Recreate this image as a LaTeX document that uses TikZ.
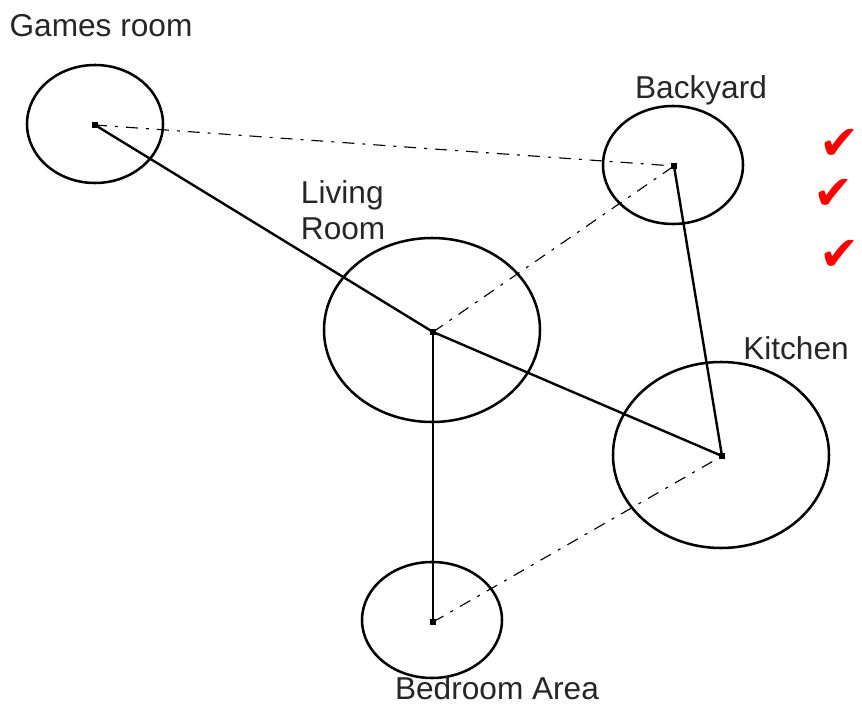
\documentclass[tikz,border=0pt]{standalone}
\usepackage{fontspec}
\setmainfont{Liberation Sans}
\newfontfamily\symfont{DejaVu Sans}
\usetikzlibrary{shapes.geometric}
\tikzset{room/.style={draw, ellipse, line width=1.8pt, inner sep=0pt},
         link/.style={line width=1.7pt},
         maybe/.style={line width=0.8pt, dash pattern=on 0.3cm off 0.2cm on 0.075cm off 0.2cm},
         spot/.style={fill, rectangle, minimum size=0.13cm, inner sep=0pt},
         lbl/.style={text=black!85, font=\fontsize{22.5}{26}\selectfont},
         tick/.style={text=red, font=\symfont\fontsize{34}{34}\selectfont}
}
\begin{document}
\begin{tikzpicture}
\useasboundingbox (0,0) rectangle (21.55,-17.675);

% rooms
\node[room, minimum width=3.4cm, minimum height=2.95cm] (gr) at (2.375,-3.1) {};
\node[room, minimum width=3.5cm, minimum height=2.95cm] (by) at (16.825,-4.125) {};
\node[room, minimum width=5.4cm, minimum height=4.6cm] (lr) at (10.8,-8.25) {};
\node[room, minimum width=5.4cm, minimum height=4.65cm] (kt) at (18.025,-11.375) {};
\node[room, minimum width=3.5cm, minimum height=2.9cm] (br) at (10.8,-15.5) {};

% centre points
\node[spot] (grc) at (2.375,-3.125) {};
\node[spot] (byc) at (16.85,-4.15) {};
\node[spot] (lrc) at (10.825,-8.3) {};
\node[spot] (ktc) at (18.05,-11.4) {};
\node[spot] (brc) at (10.825,-15.55) {};

% links
\draw[link] (grc.center) -- (lrc.center) -- (ktc.center);
\draw[link] (byc.center) -- (ktc.center);
\draw[link] (lrc.center) -- (brc.center);
\draw[maybe] (grc.center) -- (byc.center);
\draw[maybe] (lrc.center) -- (byc.center);
\draw[maybe] (brc.center) -- (ktc.center);

% names
\node[lbl, anchor=base] (grl) at (2.525,-0.925) {Games room};
\node[lbl, anchor=base] (byl) at (17.525,-2.475) {Backyard};
\node[lbl, anchor=base west, align=left] (lrl) at (7.4,-6.0) {Living\\Room};
\node[lbl, anchor=base] (ktl) at (19.9,-9.0) {Kitchen};
\node[lbl, anchor=base] (brl) at (12.425,-17.5) {Bedroom Area};

% ticks
\node[tick] (t1) at (21.0,-3.6) {✔};
\node[tick] (t2) at (20.85,-4.85) {✔};
\node[tick] (t3) at (21.0,-6.375) {✔};
\end{tikzpicture}
\end{document}
